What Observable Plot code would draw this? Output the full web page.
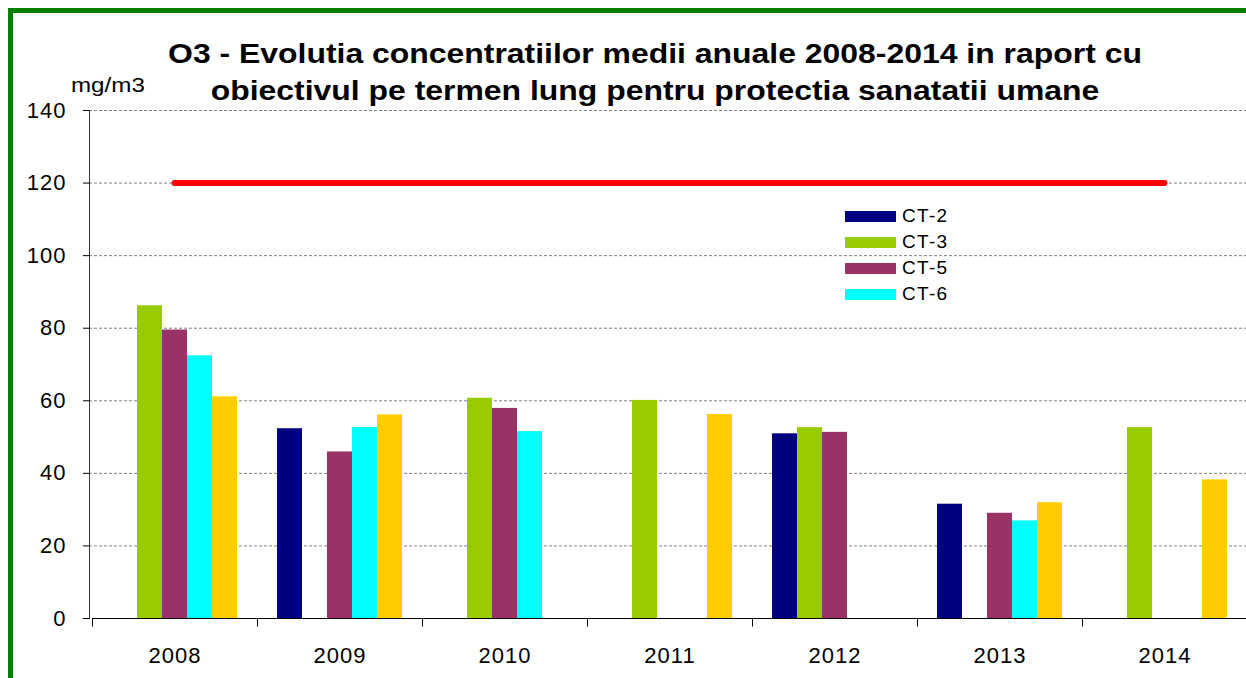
<!DOCTYPE html>
<html>
<head>
<meta charset="utf-8">
<script src="https://cdn.jsdelivr.net/npm/d3@7"></script>
<script src="https://cdn.jsdelivr.net/npm/@observablehq/plot@0.6"></script>
<style>
  html, body { margin: 0; padding: 0; background: #fff; font-family: "Liberation Sans", Arial, sans-serif; }
  #root { position: relative; width: 1246px; height: 678px; overflow: hidden; }
  #frame { position: absolute; left: 8px; top: 8px; width: 1300px; height: 700px; border-left: 5px solid #008000; border-top: 5px solid #008000; }
  .layer { position: absolute; left: 0; top: 0; }
  #title { position: absolute; left: 155px; width: 1000px; top: 35px; text-align: center; font-weight: bold; font-size: 28px; line-height: 37px; color: #000; transform: scaleX(1.14); transform-origin: 500px 0; white-space: nowrap; }
  #unit { position: absolute; left: 71px; top: 73px; font-size: 21px; transform: scaleX(1.15); transform-origin: 0 0; }
  #legend { position: absolute; left: 845px; top: 203px; font-size: 19px; }
  .lg { height: 26px; display: flex; align-items: center; }
  .sw { width: 51px; height: 11px; margin-right: 6px; }
  .lg span { letter-spacing: 1.3px; }
  svg text { letter-spacing: 1px; }
  #layerB g[aria-label="y-axis tick label"], #layerA g[aria-label="fx-axis tick label"] { font-size: 22px; }
</style>
</head>
<body>
<div id="root">
<div id="frame"></div>
<div id="layerB" class="layer"></div>
<div id="layerA" class="layer"></div>
<div id="title">O3 - Evolutia concentratiilor medii anuale 2008-2014 in raport cu<br>obiectivul pe termen lung pentru protectia sanatatii umane</div>
<div id="unit">mg/m3</div>
<div id="legend"></div>
</div>
<script>
// ---- data ----
const years = ["2008", "2009", "2010", "2011", "2012", "2013", "2014"];
const seriesNames = ["CT-2", "CT-3", "CT-5", "CT-6", "Seria 5"];
const legendNames = ["CT-2", "CT-3", "CT-5", "CT-6"];
const ct2 = [null, 52.3, null, null, 50.9, 31.5, null];
const ct3 = [86.2, null, 60.7, 60.1, 52.6, null, 52.6];
const ct5 = [79.5, 45.9, 57.9, null, 51.3, 29.0, null];
const ct6 = [72.4, 52.6, 51.5, null, null, 26.9, null];
const seria5 = [61.1, 56.1, null, 56.2, null, 31.9, 38.2];
const objective = 120;
const yTicks = [0, 20, 40, 60, 80, 100, 120, 140];
const colors = ["#000080", "#99CC00", "#993366", "#00FFFF", "#FFCC00"];

const seriesValues = [ct2, ct3, ct5, ct6, seria5];
const rows = [];
years.forEach((yr, i) => seriesNames.forEach((s, j) => {
  const v = seriesValues[j][i];
  if (v != null) rows.push({year: yr, series: s, value: v});
}));
const objLine = years.map(yr => ({year: yr, value: objective}));

const W = 1262, H = 678;
const margins = {marginTop: 110, marginBottom: 60, marginLeft: 89, marginRight: 13};
const font = "Liberation Sans, Arial, sans-serif";
const baseStyle = {background: "transparent", maxWidth: "none", fontFamily: font, fontSize: "22px", color: "#000"};

// Bottom layer: grid, objective line, y axis
const plotB = Plot.plot({
  width: W, height: H, ...margins,
  style: baseStyle,
  x: {type: "point", domain: years, padding: 0.5, axis: null},
  y: {domain: [0, 140], axis: null},
  marks: [
    Plot.ruleY(yTicks.filter(t => t > 0), {stroke: "#808080", strokeWidth: 1, strokeDasharray: "3,2"}),
    Plot.lineY(objLine, {x: "year", y: "value", stroke: "#FF0000", strokeWidth: 6, strokeLinecap: "round"}),
    Plot.frame({anchor: "left", stroke: "#000", strokeOpacity: 0.8}),
    Plot.axisY({ticks: yTicks, tickSize: 6, tickPadding: 17, fontSize: 22, label: null, tickFormat: d => String(d)})
  ]
});
document.getElementById("layerB").appendChild(plotB);

// Top layer: grouped bars, x axis
const tickSym = {draw(ctx, size) { ctx.moveTo(0, 0); ctx.lineTo(0, 8); }};
const plotA = Plot.plot({
  width: W, height: H, ...margins,
  style: baseStyle,
  fx: {domain: years, padding: 0, label: null},
  x: {domain: seriesNames, paddingInner: 0, paddingOuter: 0.77, axis: null},
  y: {domain: [0, 140], axis: null},
  color: {domain: seriesNames, range: colors},
  marks: [
    Plot.barY(rows, {fx: "year", x: "series", y: "value", fill: "series"}),
    Plot.ruleY([0], {stroke: "#000", strokeWidth: 1}),
    Plot.dot([0], {frameAnchor: "bottom-left", symbol: tickSym, stroke: "#000", fill: "none", strokeWidth: 1}),
    Plot.axisFx({anchor: "bottom", tickSize: 0, tickPadding: 29, fontSize: 22, label: null})
  ]
});
document.getElementById("layerA").appendChild(plotA);

// Legend
const lg = document.getElementById("legend");
legendNames.forEach((name) => {
  const i = seriesNames.indexOf(name);
  const row = document.createElement("div");
  row.className = "lg";
  row.innerHTML = `<div class="sw" style="background:${colors[i]}"></div><span>${name}</span>`;
  lg.appendChild(row);
});
</script>
</body>
</html>
